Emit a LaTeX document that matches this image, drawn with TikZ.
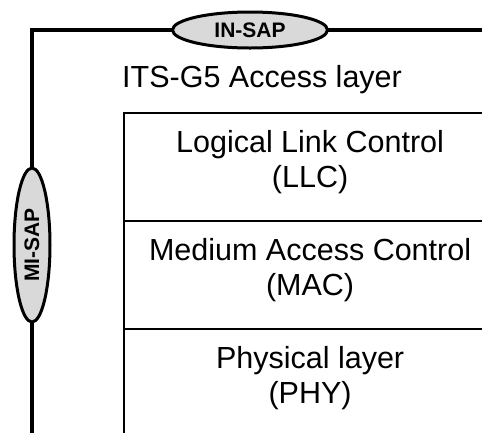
\documentclass[tikz,border=0pt]{standalone}
\usepackage{fontspec}
\setmainfont{Liberation Sans}
\usetikzlibrary{shapes.geometric}
\definecolor{sapgray}{HTML}{D9D9D9}
\tikzset{
  frame/.style={line width=3.5pt},
  sap/.style={ellipse, draw, line width=3pt, fill=sapgray, inner sep=0pt,
    font=\fontsize{21}{25}\selectfont\bfseries},
  layerbox/.style={draw, line width=2.2pt, rectangle, minimum width=372pt,
    minimum height=108pt, inner sep=0pt},
  layertext/.style={align=center, inner sep=0pt, yshift=5pt,
    font=\fontsize{30.5}{35}\selectfont},
  title/.style={font=\fontsize{30.5}{35}\selectfont, inner sep=0pt}
}
\begin{document}
\begin{tikzpicture}[x=1pt,y=-1pt]
\useasboundingbox (0,0) rectangle (482,432);
\coordinate (fr) at (490,30);
\coordinate (tl) at (32,30);
\coordinate (bl) at (32,440);
\node[layerbox, anchor=north west] (llc) at (123,112) {};
\node[layerbox, anchor=north west] (mac) at (123,220) {};
\node[layerbox, anchor=north west] (phy) at (123,328) {};
\node[layertext] (llct) at (llc.center) {Logical Link Control\\(LLC)};
\node[layertext] (mact) at (mac.center) {Medium Access Control\\(MAC)};
\node[layertext] (phyt) at (phy.center) {Physical layer\\(PHY)};
\node[title, anchor=west] (ttl) at (122,80) {ITS-G5 Access layer};
\draw[frame] (fr) -- (tl) -- (bl);
\node[sap, minimum width=155pt, minimum height=36pt] (in) at (250,30) {IN-SAP};
\node[sap, minimum width=154pt, minimum height=36pt, rotate=90] (mi) at (32,245) {MI-SAP};
\end{tikzpicture}
\end{document}
